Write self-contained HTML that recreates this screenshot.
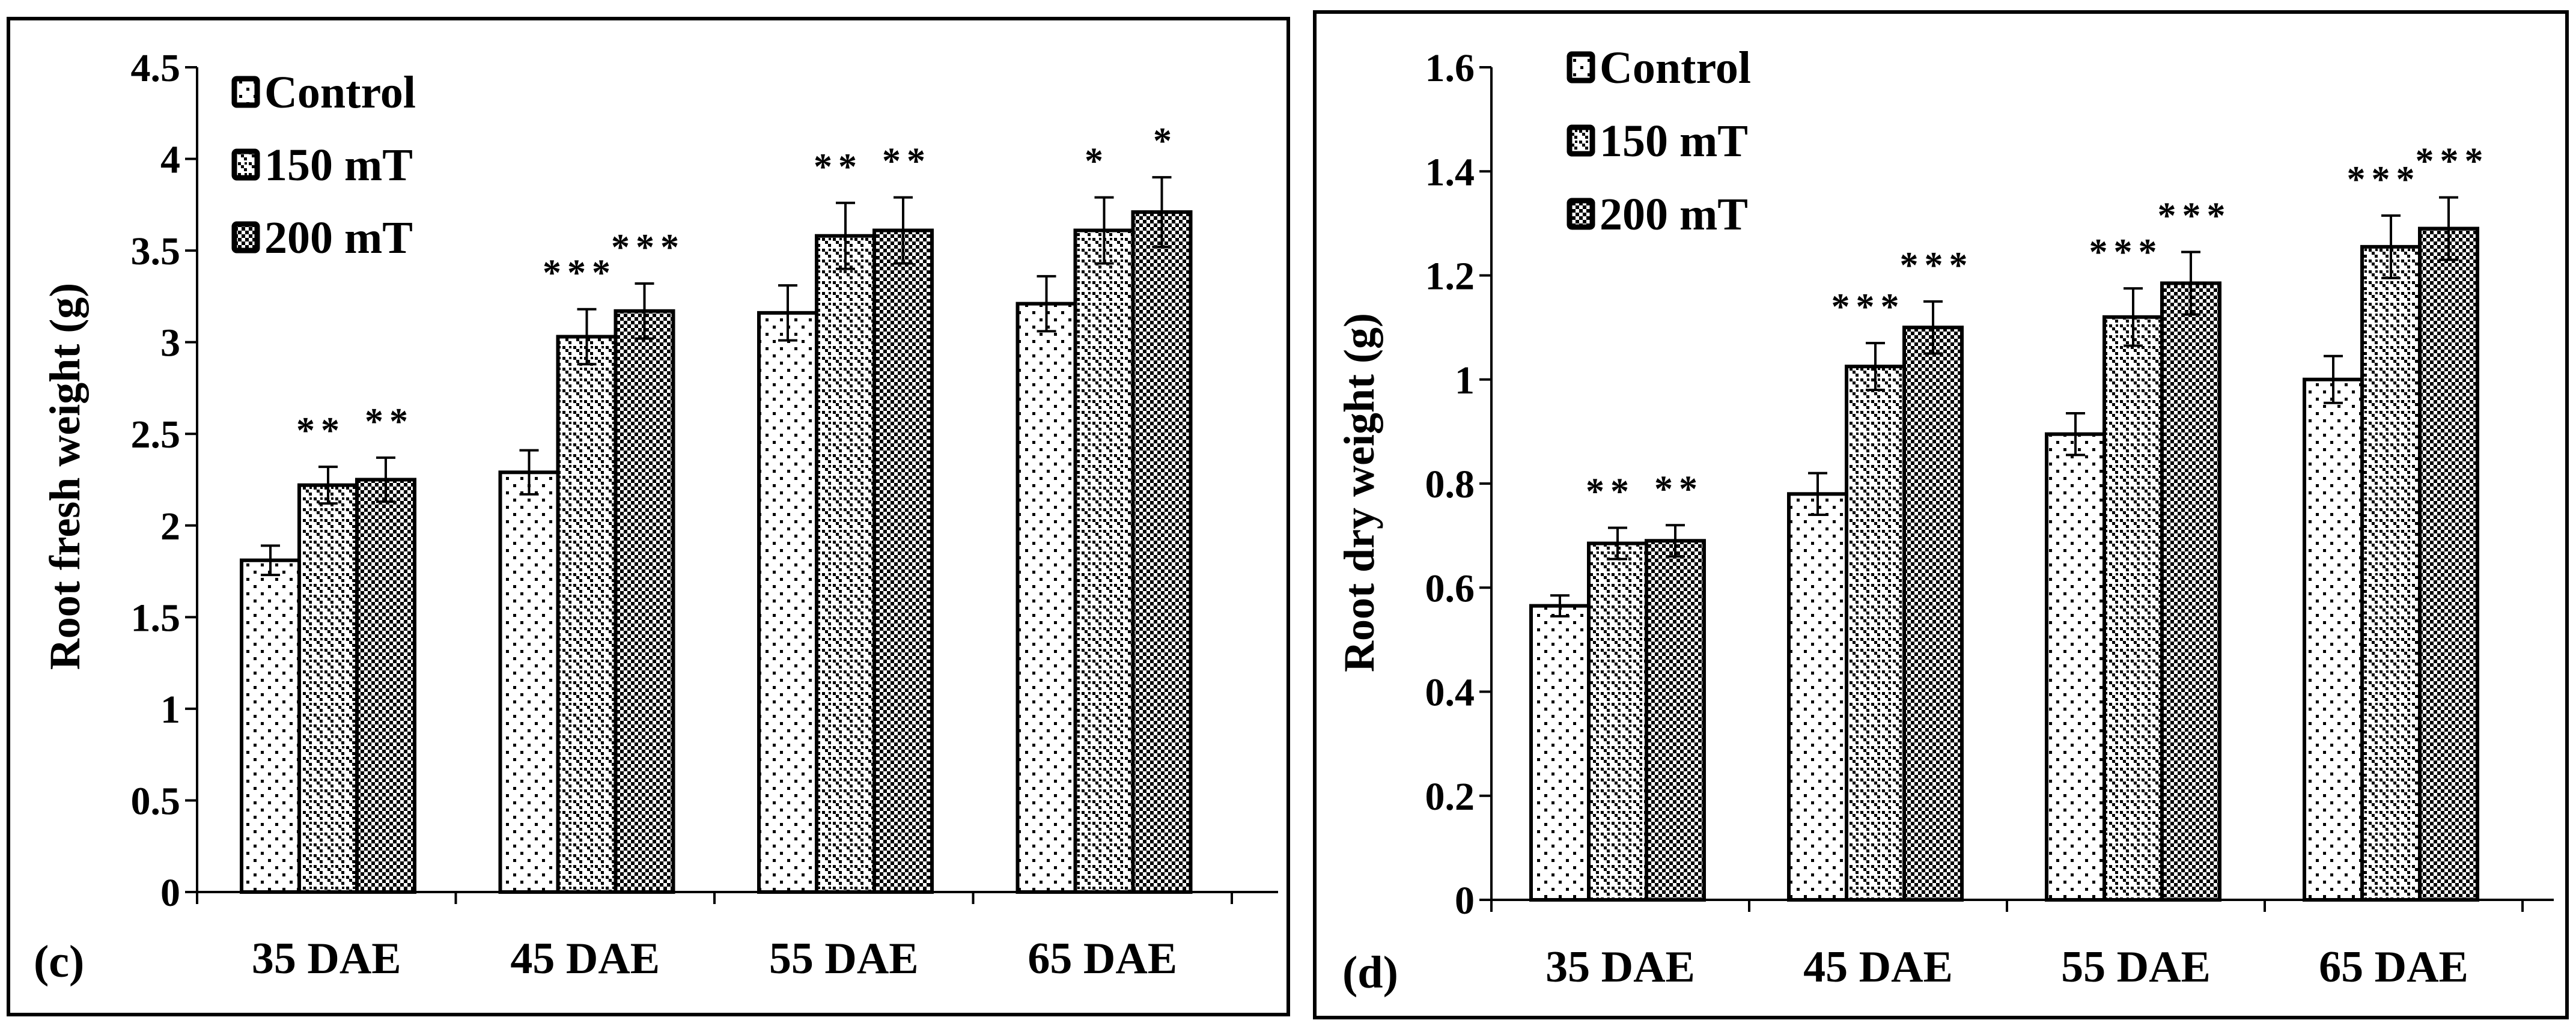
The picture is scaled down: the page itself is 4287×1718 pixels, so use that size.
<!DOCTYPE html>
<html><head><meta charset="utf-8"><style>
html,body{margin:0;padding:0;background:#fff;width:4287px;height:1718px;overflow:hidden}
text{font-family:"Liberation Serif",serif;font-weight:bold;fill:#000}
</style></head><body>
<svg id="chart" width="4287" height="1718" viewBox="0 0 4287 1718" xmlns="http://www.w3.org/2000/svg">
<defs>
<pattern id="pCtrl" width="24" height="24" patternUnits="userSpaceOnUse"><rect width="24" height="24" fill="#fff"/><rect x="2" y="2" width="5" height="5" fill="#000"/><rect x="14" y="14" width="5" height="5" fill="#000"/></pattern>
<pattern id="p150" width="18" height="18" patternUnits="userSpaceOnUse"><rect width="18" height="18" fill="#fff"/><rect x="0" y="0" width="5" height="5" fill="#000"/><rect x="5" y="5" width="5" height="5" fill="#000"/><rect x="10" y="10" width="5" height="5" fill="#000"/><rect x="11" y="0" width="4" height="4" fill="#000"/></pattern>
<pattern id="p200" width="12" height="12" patternUnits="userSpaceOnUse"><rect width="12" height="12" fill="#fff"/><rect x="0" y="0" width="6" height="6" fill="#000"/><rect x="6" y="6" width="6" height="6" fill="#000"/></pattern>
</defs>
<g id="root"></g>
</svg>
<script>
const categories = ["35 DAE","45 DAE","55 DAE","65 DAE"];
const seriesNames = ["Control","150 mT","200 mT"];
const freshControl = [1.81,2.29,3.16,3.21];
const fresh150 = [2.22,3.03,3.58,3.61];
const fresh200 = [2.25,3.17,3.61,3.71];
const freshErrControl = [0.08,0.12,0.15,0.15];
const freshErr150 = [0.10,0.15,0.18,0.18];
const freshErr200 = [0.12,0.15,0.18,0.19];
const freshStars150 = ["**","***","**","*"];
const freshStars200 = ["**","***","**","*"];
const freshTicks = ["0","0.5","1","1.5","2","2.5","3","3.5","4","4.5"];
const dryControl = [0.565,0.78,0.895,1.0];
const dry150 = [0.685,1.025,1.12,1.255];
const dry200 = [0.69,1.10,1.185,1.29];
const dryErrControl = [0.02,0.04,0.04,0.045];
const dryErr150 = [0.03,0.045,0.055,0.06];
const dryErr200 = [0.03,0.05,0.06,0.06];
const dryStars150 = ["**","***","***","***"];
const dryStars200 = ["**","***","***","***"];
const dryTicks = ["0","0.2","0.4","0.6","0.8","1","1.2","1.4","1.6"];

const NS="http://www.w3.org/2000/svg";
const root=document.getElementById('root');
function mk(tag,attrs,parent,txt){const e=document.createElementNS(NS,tag);for(const k in attrs)e.setAttribute(k,attrs[k]);if(txt!==undefined)e.textContent=txt;(parent||root).appendChild(e);return e;}
const fills=["url(#pCtrl)","url(#p150)","url(#p200)"];

function panel(cfg){
  const g=mk('g',{});
  
  
  const fr=mk('rect',{x:cfg.frame[0],y:cfg.frame[1],width:cfg.frame[2],height:cfg.frame[3],fill:'none',stroke:'#000','stroke-width':6},g);
  
  
  const x0=cfg.x0,y0=cfg.y0,ytop=cfg.ytop,ymax=cfg.ymax,gw=cfg.gw;
  const y=v=>y0-(v/ymax)*(y0-ytop);
  const gx=i=>x0+i*gw;
  const ax=mk('line',{x1:x0,y1:y0,x2:cfg.xend,y2:y0,stroke:'#000','stroke-width':4},g);
  
  
  const ay=mk('line',{x1:x0,y1:y0+2,x2:x0,y2:ytop,stroke:'#000','stroke-width':4},g);
  
  
  cfg.ticks.forEach(t=>{
    const v=parseFloat(t),yy=y(v);
    mk('line',{x1:x0-20,y1:yy,x2:x0,y2:yy,stroke:'#000','stroke-width':4},g);
    const tl=mk('text',{x:x0-28,y:yy+23,'text-anchor':'end','font-size':66},g,t);
    
    
  });
  for(let i=0;i<=categories.length;i++){mk('line',{x1:gx(i),y1:y0,x2:gx(i),y2:y0+20,stroke:'#000','stroke-width':4},g);}
  categories.forEach((c,i)=>{
    const cl=mk('text',{x:gx(i)+gw/2,y:cfg.catY,'text-anchor':'middle','font-size':74},g,c);
    
    
  });
  cfg.series.forEach((s,si)=>{
    s.vals.forEach((v,i)=>{
      const bx=gx(i)+cfg.off+si*cfg.bw;
      const b=mk('rect',{x:bx,y:y(v),width:cfg.bw,height:y0-y(v),fill:fills[si],stroke:'#000','stroke-width':6},g);
      
      
      const cx=bx+cfg.bw/2,e=s.err[i];
      const eb=mk('path',{d:`M${cx},${y(v+e)}V${y(v-e)}M${cx-16},${y(v+e)}H${cx+16}M${cx-16},${y(v-e)}H${cx+16}`,stroke:'#000','stroke-width':4,fill:'none'},g);
      
      
      if(s.stars&&s.stars[i]){
        const st=mk('text',{x:cx+(si===1?-12:6),y:y(v+e)-40,'text-anchor':'middle','font-size':62,'font-weight':'normal','letter-spacing':10},g,s.stars[i]);
        
        
      }
    });
  });
  seriesNames.forEach((n,si)=>{
    const ly=cfg.leg[1]+si*cfg.legStep;
    const sw=mk('rect',{x:cfg.leg[0],y:ly-22,width:38,height:44,fill:fills[si],stroke:'#000','stroke-width':9,rx:4},g);
    
    
    const lt=mk('text',{x:cfg.leg[0]+50,y:ly+26,'font-size':76},g,n);
    
    
  });
  const tt=mk('text',{x:cfg.titleX,y:cfg.titleY,'text-anchor':'middle','font-size':72,transform:`rotate(-90 ${cfg.titleX} ${cfg.titleY})`},g,cfg.title);
  
  
  const pl=mk('text',{x:cfg.lab[0],y:cfg.lab[1],'font-size':76},g,cfg.labText);
  
  
}

panel({name:'root-fresh-weight-chart',frame:[14,31,2130,1658],x0:328,y0:1485,ytop:112,ymax:4.5,gw:430.5,xend:2127,off:74,bw:96,
  ticks:freshTicks,catY:1620,leg:[390,153],legStep:121,title:'Root fresh  weight (g)',titleX:132,titleY:793,lab:[56,1626],labText:'(c)',
  series:[{vals:freshControl,err:freshErrControl},{vals:fresh150,err:freshErr150,stars:freshStars150},{vals:fresh200,err:freshErr200,stars:freshStars200}]});
panel({name:'root-dry-weight-chart',frame:[2188,20,2084,1674],x0:2482,y0:1498,ytop:112,ymax:1.6,gw:429,xend:4250,off:66,bw:96,
  ticks:dryTicks,catY:1634,leg:[2612,112],legStep:122,title:'Root dry weight  (g)',titleX:2286,titleY:820,lab:[2234,1644],labText:'(d)',
  series:[{vals:dryControl,err:dryErrControl},{vals:dry150,err:dryErr150,stars:dryStars150},{vals:dry200,err:dryErr200,stars:dryStars200}]});
</script>
</body></html>
